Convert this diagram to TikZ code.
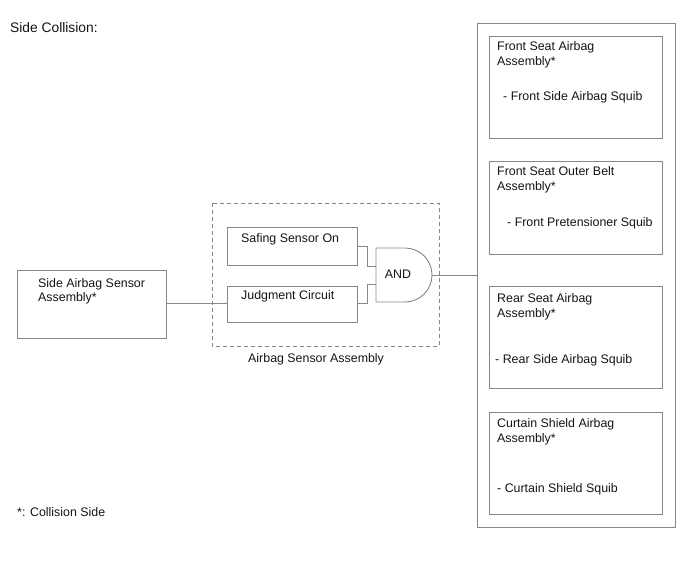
\documentclass[tikz,border=0pt]{standalone}
\usepackage{fontspec}
\setmainfont{Liberation Sans}
\definecolor{linegray}{RGB}{135,135,135}
\definecolor{txt}{RGB}{20,20,20}
\begin{document}
\begin{tikzpicture}[x=1pt,y=-1pt,
  box/.style={draw=linegray,line width=0.9pt},
  conn/.style={draw=linegray,line width=0.9pt},
  lbl/.style={anchor=base west,inner sep=0pt,text=txt,font=\fontsize{12.4}{14}\selectfont},
  title/.style={anchor=base west,inner sep=0pt,text=txt,font=\fontsize{13.8}{15}\selectfont}]
\useasboundingbox (0,0) rectangle (688,560);
% boxes
\draw[box] (477,23) rectangle (675,527);
\coordinate (outerW) at (477,275);
\draw[box] (489,36) rectangle (662,138);
\draw[box] (489,161) rectangle (662,254);
\draw[box] (489,286) rectangle (662,388);
\draw[box] (489,412) rectangle (662,514);
\draw[box,dashed,dash pattern=on 4pt off 3pt] (212,203) rectangle (439,346);
\draw[box] (227,227) rectangle (357,265);
\draw[box] (227,286) rectangle (357,322);
\draw[box] (17,270) rectangle (166,338);
\coordinate (sideE) at (166,303);
\coordinate (judgW) at (227,303);
\coordinate (judgE) at (357,303);
\coordinate (safE) at (357,246);
% AND gate
\draw[box] (376,248) -- (405,248) arc[start angle=-90,end angle=90,radius=27] -- (376,302) -- cycle;
\coordinate (andIn1) at (376,266);
\coordinate (andIn2) at (376,284);
\coordinate (andOut) at (432,275);
\node[inner sep=0pt,text=txt,font=\fontsize{12.4}{14}\selectfont] (andlbl) at (398,274) {AND};
% connectors
\draw[conn] (sideE) -- (judgW);
\draw[conn] (safE) -- (367,246) |- (andIn1);
\draw[conn] (judgE) -- (367,303) |- (andIn2);
\draw[conn] (andOut) -- (outerW);
% texts
\node[title] (t0) at (10,32) {Side Collision:};
\node[lbl] (t1) at (17,516.5) {*: Collision Side};
\node[lbl] (s1) at (38,287.5) {Side Airbag Sensor};
\node[lbl] (s2) at (38,301.5) {Assembly*};
\node[lbl] (sf) at (241,242.5) {Safing Sensor On};
\node[lbl] (jc) at (241,299.5) {Judgment Circuit};
\node[lbl] (asa) at (248,362.5) {Airbag Sensor Assembly};
\node[lbl] (a1) at (497,50.5) {Front Seat Airbag};
\node[lbl] (a2) at (497,65.5) {Assembly*};
\node[lbl] (a3) at (503,100.5) {- Front Side Airbag Squib};
\node[lbl] (b1) at (497,175.5) {Front Seat Outer Belt};
\node[lbl] (b2) at (497,190.5) {Assembly*};
\node[lbl] (b3) at (507,226.5) {- Front Pretensioner Squib};
\node[lbl] (c1) at (497,302.5) {Rear Seat Airbag};
\node[lbl] (c2) at (497,317.5) {Assembly*};
\node[lbl] (c3) at (495,363.5) {- Rear Side Airbag Squib};
\node[lbl] (d1) at (497,427.5) {Curtain Shield Airbag};
\node[lbl] (d2) at (497,442.5) {Assembly*};
\node[lbl] (d3) at (497,492.5) {- Curtain Shield Squib};
\end{tikzpicture}
\end{document}
